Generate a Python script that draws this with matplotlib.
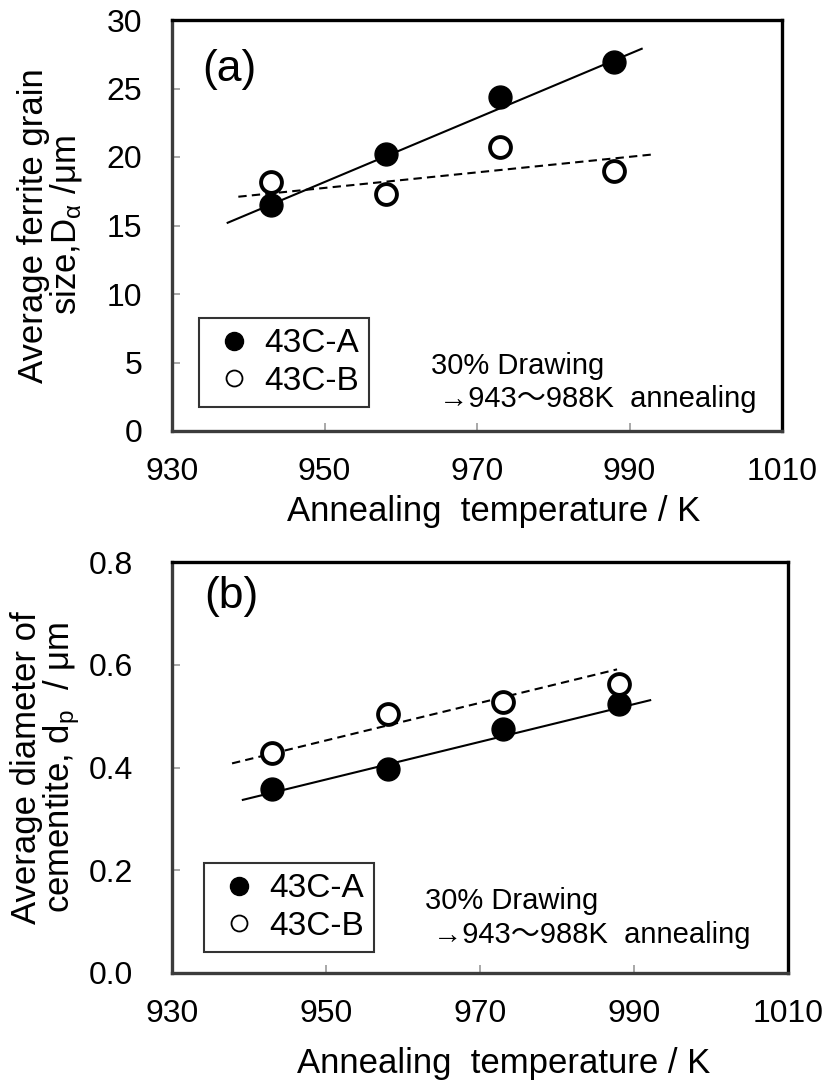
import numpy as np
import matplotlib
matplotlib.use('Agg')
import matplotlib.pyplot as plt
from matplotlib.lines import Line2D
from matplotlib.ticker import FormatStrFormatter

plt.rcParams['font.family'] = ['Liberation Sans', 'Noto Sans CJK JP', 'DejaVu Sans']
plt.rcParams['mathtext.fontset'] = 'custom'
plt.rcParams['mathtext.rm'] = 'Liberation Sans'
plt.rcParams['mathtext.it'] = 'Liberation Sans:italic'

# annealing temperature (K)
temp = [943, 958, 973, 988]

# (a) average ferrite grain size (um)
grain_a = [16.5, 20.2, 24.4, 26.9]
grain_b = [18.2, 17.3, 20.7, 19.0]
# trend lines (start / end temperature and value)
grain_fit_a_x = [937.3, 991.6]
grain_fit_a_y = [15.2, 27.9]
grain_fit_b_x = [938.7, 993.3]
grain_fit_b_y = [17.1, 20.2]

# (b) average cementite diameter (um)
cem_a = [0.359, 0.397, 0.474, 0.523]
cem_b = [0.429, 0.505, 0.527, 0.563]
cem_fit_a_x = [939.2, 992.1]
cem_fit_a_y = [0.337, 0.531]
cem_fit_b_x = [937.8, 987.8]
cem_fit_b_y = [0.408, 0.591]

xticks = [930, 950, 970, 990, 1010]
labels = ['43C-A', '43C-B']
note = '30% Drawing\n →943～988K  annealing'

W, H = 829, 1084
fig = plt.figure(figsize=(W / 100, H / 100), dpi=100)

ax1 = fig.add_axes([172 / W, 1 - 431 / H, 610 / W, 411 / H])
ax2 = fig.add_axes([172 / W, 1 - 973 / H, 616 / W, 411 / H])


def style(ax, ypad, xlabel_xy):
    for side in ['top', 'right']:
        ax.spines[side].set_linewidth(2.4)
        ax.spines[side].set_color('black')
    for side in ['left', 'bottom']:
        ax.spines[side].set_linewidth(2.4)
        ax.spines[side].set_color('#3c3c3c')
    ax.tick_params(direction='in', length=6, width=1.2, color='#999999',
                   labelsize=23)
    ax.tick_params(axis='x', pad=19)
    ax.tick_params(axis='y', pad=ypad)
    ax.set_xlim(930, 1010)
    ax.set_xticks(xticks)
    ax.set_xlabel('Annealing  temperature / K', fontsize=25)
    ax.xaxis.set_label_coords(*xlabel_xy)


def draw(ax, ya, yb, fa, fb, leg_pos):
    ax.plot(fa[0], fa[1], '-', color='black', lw=1.5)
    ax.plot(fb[0], fb[1], '--', color='black', lw=1.5, dashes=(4, 2.5))
    ax.plot(temp, ya, 'o', color='black', ms=16.5, zorder=3)
    ax.plot(temp, yb, 'o', mfc='white', mec='black', mew=2.8, ms=15, zorder=3)
    handles = [
        Line2D([], [], ls='none', marker='o', color='black', ms=13),
        Line2D([], [], ls='none', marker='o', mfc='white', mec='black', mew=1.3, ms=11.5),
    ]
    leg = ax.legend(handles, labels, loc='lower left', bbox_to_anchor=leg_pos,
                    fontsize=24, frameon=True, fancybox=False, edgecolor='black',
                    handletextpad=0.15, handlelength=1.5, borderpad=0.3,
                    labelspacing=0.2, borderaxespad=0)
    leg.get_frame().set_linewidth(1.5)


style(ax1, 21.5, (0.528, -0.155))
draw(ax1, grain_a, grain_b, (grain_fit_a_x, grain_fit_a_y),
     (grain_fit_b_x, grain_fit_b_y), (0.044, 0.058))
ax1.set_ylim(0, 30)
ax1.set_yticks(np.arange(0, 31, 5))
ax1.set_ylabel('Average ferrite grain\nsize,D$_{\\mathrm{α}}$ /μm', fontsize=25,
               linespacing=0.95)
ax1.yaxis.set_label_coords(-0.144, 0.5)
ax1.text(0.049, 0.93, '(a)', transform=ax1.transAxes, fontsize=32, va='top', ha='left')
ax1.text(0.425, 0.058, note, transform=ax1.transAxes, fontsize=21, va='baseline',
         ha='left', linespacing=1.25)

style(ax2, 28, (0.539, -0.18))
draw(ax2, cem_a, cem_b, (cem_fit_a_x, cem_fit_a_y),
     (cem_fit_b_x, cem_fit_b_y), (0.052, 0.051))
ax2.set_ylim(0, 0.8)
ax2.set_yticks(np.arange(0, 0.81, 0.2))
ax2.yaxis.set_major_formatter(FormatStrFormatter('%.1f'))
ax2.set_ylabel('Average diameter of\ncementite, d$_{\\mathrm{p}}$  / μm', fontsize=25,
               linespacing=0.95)
ax2.yaxis.set_label_coords(-0.146, 0.5)
ax2.text(0.052, 0.965, '(b)', transform=ax2.transAxes, fontsize=32, va='top', ha='left')
ax2.text(0.411, 0.073, note, transform=ax2.transAxes, fontsize=21, va='baseline',
         ha='left', linespacing=1.25)

fig.savefig('out.png', dpi=100)
